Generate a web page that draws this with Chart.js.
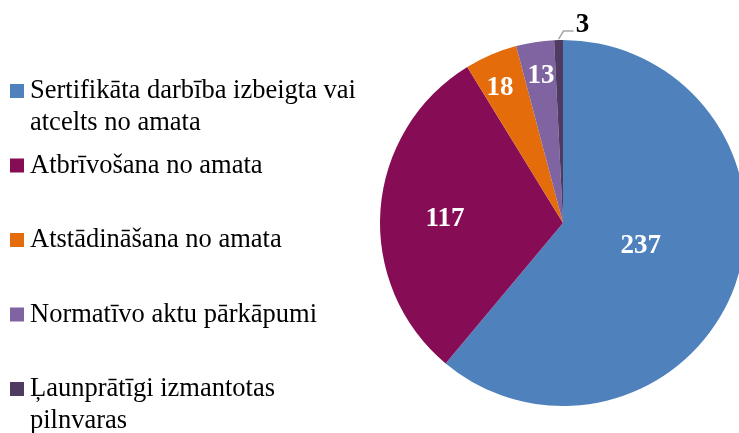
<!DOCTYPE html>
<html>
<head>
<meta charset="utf-8">
<script src="https://cdn.jsdelivr.net/npm/chart.js"></script>
<style>
  html, body { margin: 0; padding: 0; background: #fff; overflow: hidden; }
  #wrap { position: absolute; left: 0; top: 0; }
</style>
</head>
<body>
<div id="wrap"><canvas id="myChart" width="760" height="433"></canvas></div>
<script>
// kategorijas (leģendas rindas)
const categories = [
    ['Sertifikāta darbība izbeigta vai', 'atcelts no amata'],
    ['Atbrīvošana no amata'],
    ['Atstādināšana no amata'],
    ['Normatīvo aktu pārkāpumi'],
    ['Ļaunprātīgi izmantotas', 'pilnvaras']
];
const counts = [237, 117, 18, 13, 3];
const colors = ['#4F81BD', '#860D55', '#E46C0A', '#8064A2', '#4F3B62'];

// uzraksta vieta: daļa no rādiusa un leņķa nobīde grādos; -1 = ārpusē ar līniju
const labelPos = [[0.44, -4.9], [0.646, -1.3], [0.824, -1.5], [0.823, 0.4], [-1, 0]];

const serif = "'Liberation Serif', 'Times New Roman', serif";

// skaitļi uz sektoriem
const valueLabels = {
    id: 'valueLabels',
    afterDatasetsDraw(chart) {
        const ctx = chart.ctx;
        const meta = chart.getDatasetMeta(0);
        ctx.save();
        ctx.font = 'bold 27px ' + serif;
        ctx.textAlign = 'center';
        ctx.textBaseline = 'alphabetic';
        meta.data.forEach((arc, i) => {
            const { x, y, startAngle, endAngle, outerRadius } = arc.getProps(['x', 'y', 'startAngle', 'endAngle', 'outerRadius'], true);
            const [f, shift] = labelPos[i];
            const mid = (startAngle + endAngle) / 2 + shift * Math.PI / 180;
            if (f > 0) {
                ctx.fillStyle = '#fff';
                ctx.fillText(String(counts[i]), x + Math.cos(mid) * outerRadius * f, y + Math.sin(mid) * outerRadius * f + 9);
            } else {
                // ārējais uzraksts ar vadlīniju
                const px = x + Math.cos(mid) * outerRadius;
                const py = y + Math.sin(mid) * outerRadius;
                ctx.strokeStyle = '#A6A6A6';
                ctx.lineWidth = 1.5;
                ctx.beginPath();
                ctx.moveTo(px, py - 1);
                ctx.lineTo(px + 5, py - 9);
                ctx.lineTo(px + 15, py - 9);
                ctx.stroke();
                ctx.fillStyle = '#000';
                ctx.fillText(String(counts[i]), px + 24, py - 8);
            }
        });
        ctx.restore();
    }
};

// leģenda kreisajā pusē
const sideLegend = {
    id: 'sideLegend',
    afterDraw(chart) {
        const ctx = chart.ctx;
        ctx.save();
        ctx.font = '26.5px ' + serif;
        ctx.textAlign = 'left';
        ctx.textBaseline = 'alphabetic';
        categories.forEach((lines, i) => {
            const top = 84 + i * 74.5;
            ctx.fillStyle = colors[i];
            ctx.fillRect(10, top, 14, 14);
            ctx.fillStyle = '#000';
            lines.forEach((line, j) => {
                ctx.fillText(line, 30, top + 14 + j * 32);
            });
        });
        ctx.restore();
    }
};

new Chart(document.getElementById('myChart').getContext('2d'), {
    type: 'pie',
    data: {
        labels: categories.map(l => l.join(' ')),
        datasets: [{
            data: counts,
            backgroundColor: colors,
            borderWidth: 0,
            hoverOffset: 0
        }]
    },
    options: {
        responsive: false,
        animation: false,
        events: [],
        layout: { padding: { left: 380, right: 14, top: 40, bottom: 27 } },
        plugins: {
            legend: { display: false },
            tooltip: { enabled: false },
            title: { display: false }
        }
    },
    plugins: [valueLabels, sideLegend]
});
</script>
</body>
</html>
